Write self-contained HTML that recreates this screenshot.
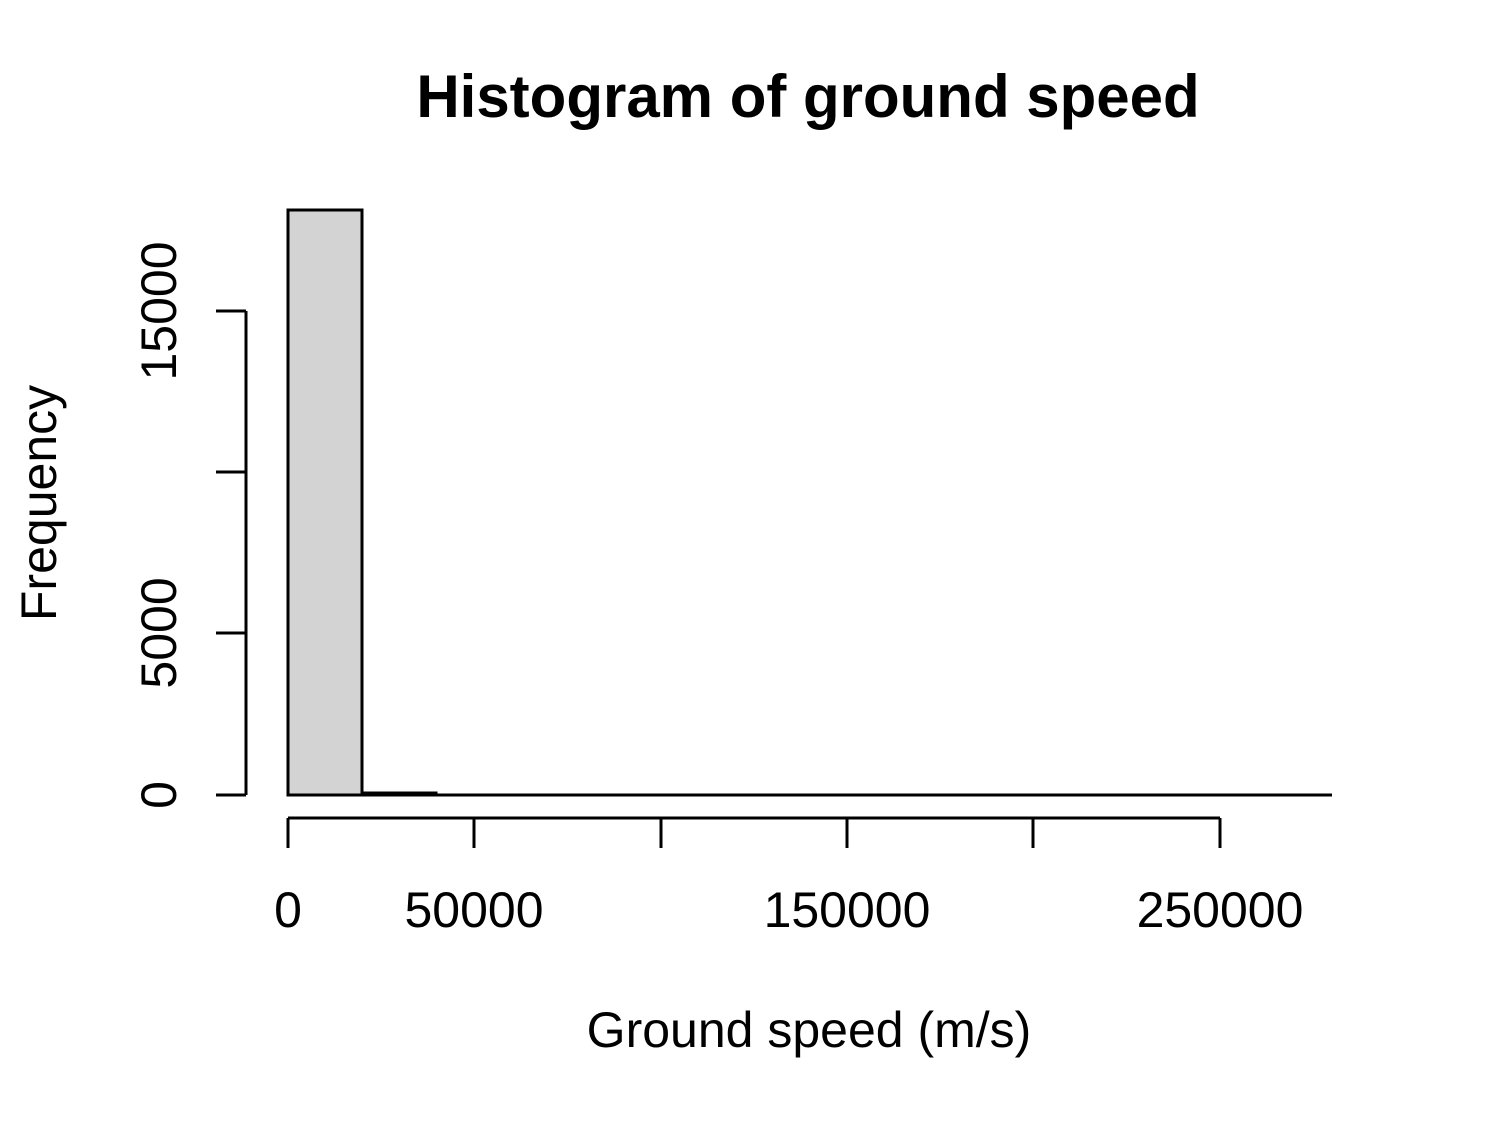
<!DOCTYPE html>
<html><head><meta charset="utf-8"><style>
html,body{margin:0;padding:0;background:#fff;}
svg{display:block;font-family:"Liberation Sans",Arial,sans-serif;}
</style></head><body>
<svg width="1500" height="1125" viewBox="0 0 1500 1125" xmlns="http://www.w3.org/2000/svg">
<rect width="1500" height="1125" fill="#fff"/>
<text x="808" y="117" font-size="60" font-weight="bold" text-anchor="middle">Histogram of ground speed</text>
<g stroke="#000" stroke-width="3" fill="none">
<rect x="288" y="210" width="74" height="585" fill="#d3d3d3"/>
<rect x="362" y="793" width="74" height="2"/>
<line x1="288" y1="795" x2="1332" y2="795"/>
<line x1="288" y1="818" x2="1220" y2="818"/>
<line x1="288" y1="818" x2="288" y2="848"/>
<line x1="474" y1="818" x2="474" y2="848"/>
<line x1="661" y1="818" x2="661" y2="848"/>
<line x1="847" y1="818" x2="847" y2="848"/>
<line x1="1033" y1="818" x2="1033" y2="848"/>
<line x1="1220" y1="818" x2="1220" y2="848"/>
<line x1="246" y1="311" x2="246" y2="795"/>
<line x1="216" y1="795" x2="246" y2="795"/>
<line x1="216" y1="633" x2="246" y2="633"/>
<line x1="216" y1="472" x2="246" y2="472"/>
<line x1="216" y1="311" x2="246" y2="311"/>
</g>
<g font-size="50" text-anchor="middle">
<text x="288" y="927">0</text>
<text x="474" y="927">50000</text>
<text x="847" y="927">150000</text>
<text x="1220" y="927">250000</text>
<text transform="translate(176,795) rotate(-90)">0</text>
<text transform="translate(176,633) rotate(-90)">5000</text>
<text transform="translate(176,311) rotate(-90)">15000</text>
<text x="809" y="1047">Ground speed (m/s)</text>
<text transform="translate(56,503) rotate(-90)">Frequency</text>
</g>
</svg>
</body></html>
